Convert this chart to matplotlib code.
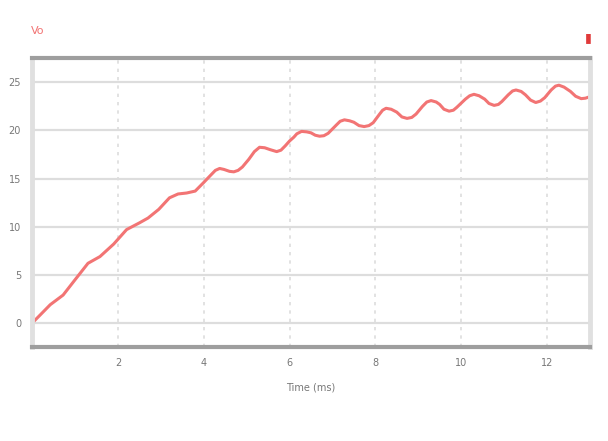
import numpy as np
import matplotlib.pyplot as plt

# waveform (time in ms)
t_ms = [0, 0.2, 0.42, 0.72, 1.0, 1.3, 1.58, 1.9, 2.2, 2.5,
        2.7, 2.95, 3.2, 3.4, 3.6, 3.8,
        4.0, 4.15, 4.27, 4.37, 4.47, 4.6, 4.7, 4.8, 4.9,
        5.05, 5.18, 5.3, 5.42, 5.55, 5.7, 5.8, 5.9, 6.0,
        6.1, 6.17, 6.28, 6.4, 6.5, 6.6, 6.7, 6.8, 6.9,
        7.1, 7.18, 7.28, 7.4, 7.5, 7.62, 7.74, 7.85, 7.95,
        8.1, 8.17, 8.25, 8.37, 8.5, 8.62, 8.74, 8.85, 8.95,
        9.1, 9.2, 9.3, 9.42, 9.5, 9.6, 9.72, 9.82, 9.9,
        10.1, 10.2, 10.3, 10.42, 10.55, 10.65, 10.77, 10.87, 10.95,
        11.1, 11.2, 11.28, 11.4, 11.5, 11.62, 11.74, 11.85, 11.95,
        12.1, 12.2, 12.28, 12.4, 12.55, 12.67, 12.8, 12.9, 13.0]
vo = [0, 0.9, 1.9, 2.9, 4.5, 6.2, 6.9, 8.2, 9.7, 10.4,
      10.9, 11.8, 13.0, 13.4, 13.5, 13.7,
      14.6, 15.3, 15.85, 16.05, 15.95, 15.75, 15.7, 15.85, 16.2,
      17.0, 17.8, 18.25, 18.2, 18.0, 17.8, 17.95, 18.4, 18.9,
      19.3, 19.65, 19.9, 19.85, 19.75, 19.5, 19.4, 19.45, 19.7,
      20.6, 20.95, 21.1, 21.0, 20.85, 20.5, 20.4, 20.5, 20.8,
      21.7, 22.1, 22.3, 22.2, 21.9, 21.4, 21.25, 21.35, 21.7,
      22.5, 22.95, 23.1, 22.95, 22.7, 22.2, 22.0, 22.1, 22.4,
      23.25, 23.6, 23.75, 23.6, 23.25, 22.8, 22.6, 22.7, 23.0,
      23.7, 24.1, 24.2, 24.05, 23.7, 23.15, 22.9, 23.05, 23.4,
      24.2, 24.6, 24.7, 24.5, 24.05, 23.55, 23.3, 23.35, 23.5]

x_ticks = [2, 4, 6, 8, 10, 12]
y_ticks = [0, 5, 10, 15, 20, 25]

fig = plt.figure(figsize=(6.08, 4.41), dpi=100)
ax = fig.add_axes([0.053, 0.213, 0.917, 0.655])

ax.plot(t_ms, vo, color='#f27474', lw=2.2, solid_joinstyle='round')

ax.set_xlim(0, 13)
ax.set_ylim(-2.5, 27.5)
ax.set_xticks(x_ticks)
ax.set_yticks(y_ticks)
ax.tick_params(length=0, labelsize=7, labelcolor='#777777', pad=8)

# grid: solid horizontal, dotted vertical
ax.grid(axis='y', color='#dddddd', lw=1.6, ls='-')
ax.grid(axis='x', color='#dddddd', lw=1.2, ls=(0, (2, 3)))
ax.set_axisbelow(True)

for s in ['top', 'bottom']:
    ax.spines[s].set_color('#9e9e9e')
    ax.spines[s].set_linewidth(3)
for s in ['left', 'right']:
    ax.spines[s].set_color('#e0e0e0')
    ax.spines[s].set_linewidth(3.5)

ax.set_xlabel('Time (ms)', fontsize=7, color='#777777', labelpad=10)

fig.text(0.062, 0.93, 'Vo', color='#f27474', fontsize=8, ha='center', va='center')
fig.text(0.967, 0.915, '\u25ae', color='#e03a3a', fontsize=9, ha='center', va='center')

plt.savefig('out.png', dpi=100)
